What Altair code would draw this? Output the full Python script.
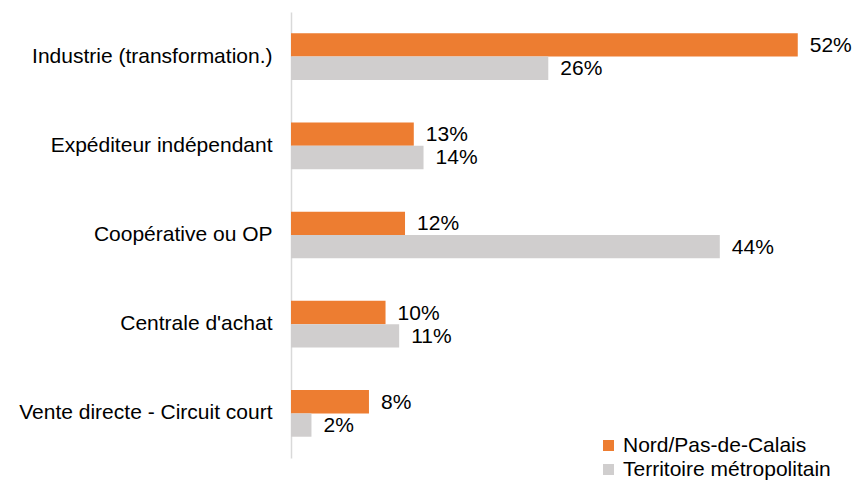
import altair as alt
import pandas as pd

categories = [
    "Industrie (transformation.)",
    "Expéditeur indépendant",
    "Coopérative ou OP",
    "Centrale d'achat",
    "Vente directe - Circuit court",
]
series = ["Nord/Pas-de-Calais", "Territoire métropolitain"]
nord = [52.0, 12.6, 11.7, 9.7, 8.0]
territoire = [26.4, 13.6, 44.0, 11.1, 2.1]
colors = ["#ED7D31", "#D0CECE"]

rows = []
for c, a, b in zip(categories, nord, territoire):
    rows.append({"cat": c, "serie": series[0], "val": a})
    rows.append({"cat": c, "serie": series[1], "val": b})
df = pd.DataFrame(rows)

FONT = "Liberation Sans"

y = alt.Y(
    "cat:N",
    sort=categories,
    scale=alt.Scale(paddingInner=0.477, paddingOuter=0.2385),
    axis=alt.Axis(
        title=None,
        ticks=False,
        labelFontSize=21,
        labelFont=FONT,
        labelColor="#000000",
        labelPadding=19,
        domainColor="#D9D9D9",
        domainWidth=1.5,
        labelLimit=400,
    ),
)
yoff = alt.YOffset("serie:N", sort=series)
x = alt.X("val:Q", scale=alt.Scale(domain=[0, 55], nice=False, zero=True), axis=None)

bars = alt.Chart(df).mark_bar().encode(
    x=x,
    y=y,
    yOffset=yoff,
    color=alt.Color(
        "serie:N",
        sort=series,
        scale=alt.Scale(domain=series, range=colors),
        legend=alt.Legend(
            title=None,
            orient="none",
            legendX=307,
            legendY=423,
            symbolType="square",
            symbolSize=121,
            symbolStrokeWidth=0,
            labelFontSize=21,
            labelFont=FONT,
            labelColor="#000000",
            labelLimit=400,
            rowPadding=2,
            labelOffset=4,
            padding=0,
        ),
    ),
)

labels = (
    alt.Chart(df)
    .transform_calculate(label="format(datum.val, '.0f') + '%'")
    .mark_text(align="left", baseline="middle", dx=12, dy=1, fontSize=21, font=FONT, color="#000000")
    .encode(x=x, y=y, yOffset=yoff, text="label:N")
)

chart = (
    alt.layer(bars, labels)
    .properties(
        width=536,
        height=446,
        autosize=alt.AutoSizeParams(type="none"),
        padding={"left": 283, "top": 4, "right": 25, "bottom": 23},
    )
    .configure_view(stroke=None)
)

chart.save("out.html", embed_options={"renderer": "svg", "actions": False})
